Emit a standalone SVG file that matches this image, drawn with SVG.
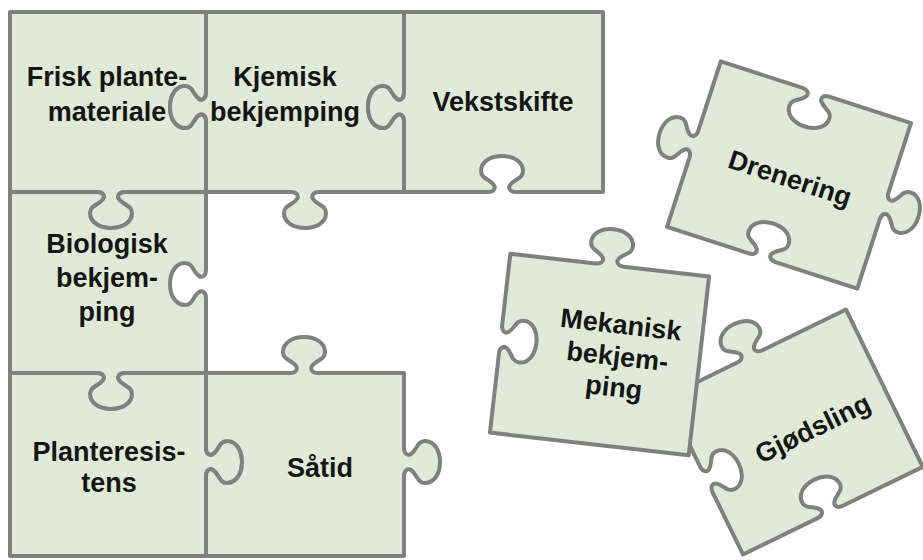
<svg xmlns="http://www.w3.org/2000/svg" width="923" height="560" viewBox="0 0 923 560">
<style>
.pc{fill:#dfebd6;stroke:#808080;stroke-width:4;stroke-linejoin:round}
.t{font-family:"Liberation Sans",Arial,sans-serif;font-weight:bold;font-size:27px;fill:#151515;text-anchor:middle}
</style>
<rect width="923" height="560" fill="#ffffff"/>
<g id="drenering" transform="translate(789 175) rotate(18)">
<path class="pc" d="M -100,-87 H -14 c 6,0 8,4 6,7 c -4,6 -13,6 -13,14 c 0,9 9,15 21,15 c 12,0 21,-6 21,-15 c 0,-8 -9,-8 -13,-14 c -2,-3 0,-7 6,-7 H 100 V -14 c 0,6 4,8 7,6 c 6,-4 6,-13 14,-13 c 9,0 15,9 15,21 c 0,12 -6,21 -15,21 c -8,0 -8,-9 -14,-13 c -3,-2 -7,0 -7,6 V 87 H 14 c -6,0 -8,-4 -6,-7 c 4,-6 13,-6 13,-14 c 0,-9 -9,-15 -21,-15 c -12,0 -21,6 -21,15 c 0,8 9,8 13,14 c 2,3 0,7 -6,7 H -100 V 14 c 0,-6 -4,-8 -7,-6 c -6,4 -6,13 -14,13 c -9,0 -15,-9 -15,-21 c 0,-12 6,-21 15,-21 c 8,0 8,9 14,13 c 3,2 7,0 7,-6 Z"/>
<text class="t" x="2" y="12">Drenering</text>
</g>
<g id="gjodsling" transform="translate(794.5 432) rotate(-26)">
<path class="pc" d="M -100,-87.5 H -21 c 6,0 8,-4 6,-7 c -4,-6 -13,-6 -13,-14 c 0,-9 9,-15 21,-15 c 12,0 21,6 21,15 c 0,8 -9,8 -13,14 c -2,3 0,7 6,7 H 100 V 87.5 H 11 c -6,0 -8,-4 -6,-7 c 4,-6 13,-6 13,-14 c 0,-9 -9,-15 -21,-15 c -12,0 -21,6 -21,15 c 0,8 9,8 13,14 c 2,3 0,7 -6,7 H -100 V 18 c 0,-6 4,-8 7,-6 c 6,4 6,13 14,13 c 9,0 15,-9 15,-21 c 0,-12 -6,-21 -15,-21 c -8,0 -8,9 -14,13 c -3,2 -7,0 -7,-6 Z"/>
<text class="t" x="18" y="14">Gjødsling</text>
</g>
<g id="mekanisk" transform="translate(599.5 354.5) rotate(6.5)">
<path class="pc" d="M -100,-90 H -14 c 6,0 8,-4 6,-7 c -4,-6 -13,-6 -13,-14 c 0,-9 9,-15 21,-15 c 12,0 21,6 21,15 c 0,8 -9,8 -13,14 c -2,3 0,7 6,7 H 100 V 90 H -100 V 10 c 0,-6 4,-8 7,-6 c 6,4 6,13 14,13 c 9,0 15,-9 15,-21 c 0,-12 -6,-21 -15,-21 c -8,0 -8,9 -14,13 c -3,2 -7,0 -7,-6 Z"/>
<text class="t" x="18" y="-23">Mekanisk</text>
<text class="t" x="18" y="9">bekjem-</text>
<text class="t" x="18" y="40">ping</text>
</g>
<g id="frisk">
<path class="pc" d="M 10,12 H 206 V 93 c 0,6 -4,8 -7,6 c -6,-4 -6,-13 -14,-13 c -9,0 -15,9 -15,21 c 0,12 6,21 15,21 c 8,0 8,-9 14,-13 c 3,-2 7,0 7,6 V 192 H 125 c -6,0 -8,4 -6,7 c 4,6 13,6 13,14 c 0,9 -9,15 -21,15 c -12,0 -21,-6 -21,-15 c 0,-8 9,-8 13,-14 c 2,-3 0,-7 -6,-7 H 10 Z"/>
<text class="t" x="107" y="86">Frisk plante-</text>
<text class="t" x="107" y="121">materiale</text>
</g>
<g id="kjemisk">
<path class="pc" d="M 206,12 H 404 V 93 c 0,6 -4,8 -7,6 c -6,-4 -6,-13 -14,-13 c -9,0 -15,9 -15,21 c 0,12 6,21 15,21 c 8,0 8,-9 14,-13 c 3,-2 7,0 7,6 V 192 H 319 c -6,0 -8,4 -6,7 c 4,6 13,6 13,14 c 0,9 -9,15 -21,15 c -12,0 -21,-6 -21,-15 c 0,-8 9,-8 13,-14 c 2,-3 0,-7 -6,-7 H 206 V 121 c 0,-6 -4,-8 -7,-6 c -6,4 -6,13 -14,13 c -9,0 -15,-9 -15,-21 c 0,-12 6,-21 15,-21 c 8,0 8,9 14,13 c 3,2 7,0 7,-6 Z"/>
<text class="t" x="285" y="86">Kjemisk</text>
<text class="t" x="285" y="121">bekjemping</text>
</g>
<g id="vekstskifte">
<path class="pc" d="M 404,12 H 603 V 192 H 516 c -6,0 -8,-4 -6,-7 c 4,-6 13,-6 13,-14 c 0,-9 -9,-15 -21,-15 c -12,0 -21,6 -21,15 c 0,8 9,8 13,14 c 2,3 0,7 -6,7 H 404 V 121 c 0,-6 -4,-8 -7,-6 c -6,4 -6,13 -14,13 c -9,0 -15,-9 -15,-21 c 0,-12 6,-21 15,-21 c 8,0 8,9 14,13 c 3,2 7,0 7,-6 Z"/>
<text class="t" x="503" y="111">Vekstskifte</text>
</g>
<g id="biologisk">
<path class="pc" d="M 10,192 H 97 c 6,0 8,4 6,7 c -4,6 -13,6 -13,14 c 0,9 9,15 21,15 c 12,0 21,-6 21,-15 c 0,-8 -9,-8 -13,-14 c -2,-3 0,-7 6,-7 H 206 V 270 c 0,6 -4,8 -7,6 c -6,-4 -6,-13 -14,-13 c -9,0 -15,9 -15,21 c 0,12 6,21 15,21 c 8,0 8,-9 14,-13 c 3,-2 7,0 7,6 V 373 H 125 c -6,0 -8,4 -6,7 c 4,6 13,6 13,14 c 0,9 -9,15 -21,15 c -12,0 -21,-6 -21,-15 c 0,-8 9,-8 13,-14 c 2,-3 0,-7 -6,-7 H 10 Z"/>
<text class="t" x="107" y="253">Biologisk</text>
<text class="t" x="107" y="287">bekjem-</text>
<text class="t" x="107" y="321">ping</text>
</g>
<g id="planteresistens">
<path class="pc" d="M 10,373 H 97 c 6,0 8,4 6,7 c -4,6 -13,6 -13,14 c 0,9 9,15 21,15 c 12,0 21,-6 21,-15 c 0,-8 -9,-8 -13,-14 c -2,-3 0,-7 6,-7 H 206 V 448 c 0,6 4,8 7,6 c 6,-4 6,-13 14,-13 c 9,0 15,9 15,21 c 0,12 -6,21 -15,21 c -8,0 -8,-9 -14,-13 c -3,-2 -7,0 -7,6 V 556 H 10 Z"/>
<text class="t" x="109" y="461">Planteresis-</text>
<text class="t" x="109" y="492">tens</text>
</g>
<g id="satid">
<path class="pc" d="M 206,373 H 290 c 6,0 8,-4 6,-7 c -4,-6 -13,-6 -13,-14 c 0,-9 9,-15 21,-15 c 12,0 21,6 21,15 c 0,8 -9,8 -13,14 c -2,3 0,7 6,7 H 404 V 448 c 0,6 4,8 7,6 c 6,-4 6,-13 14,-13 c 9,0 15,9 15,21 c 0,12 -6,21 -15,21 c -8,0 -8,-9 -14,-13 c -3,-2 -7,0 -7,6 V 556 H 206 V 476 c 0,-6 4,-8 7,-6 c 6,4 6,13 14,13 c 9,0 15,-9 15,-21 c 0,-12 -6,-21 -15,-21 c -8,0 -8,9 -14,13 c -3,2 -7,0 -7,-6 Z"/>
<text class="t" x="320" y="477">Såtid</text>
</g>
<g id="connectors"/>
</svg>
